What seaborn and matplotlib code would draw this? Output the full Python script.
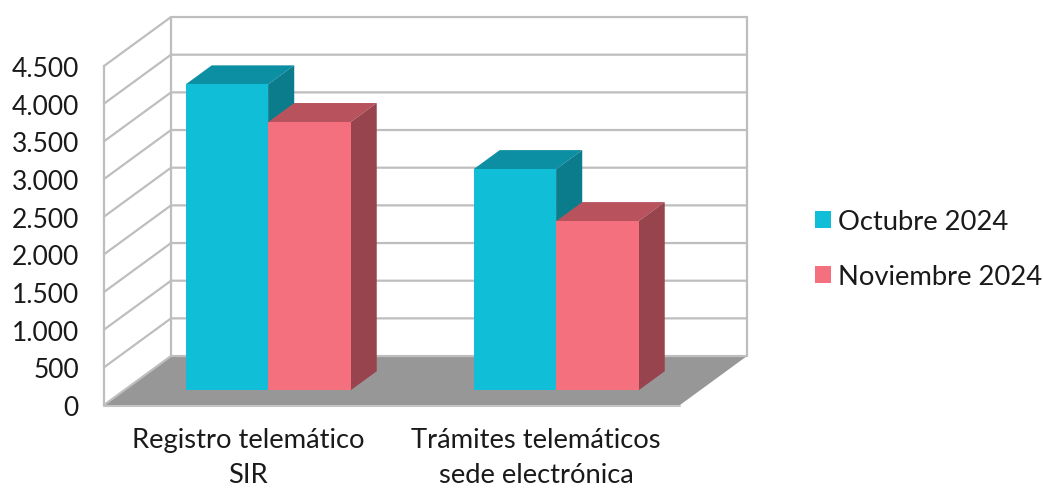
from matplotlib import pyplot as plt
from matplotlib.patches import Patch, Polygon
import pandas as pd
import seaborn as sns

categories = ["Registro telemático\nSIR", "Trámites telemáticos\nsede electrónica"]
series_names = ["Octubre 2024", "Noviembre 2024"]
octubre = [4060, 2935]
noviembre = [3560, 2245]
y_ticks = [0, 500, 1000, 1500, 2000, 2500, 3000, 3500, 4000, 4500]
y_tick_labels = ["0", "500", "1.000", "1.500", "2.000", "2.500", "3.000", "3.500", "4.000", "4.500"]

front_colors = ["#10BED8", "#F5707F"]
top_colors = ["#0C8FA2", "#B8525C"]
side_colors = ["#0B7C8C", "#97444E"]
line_color = "#BEBEBE"
floor_color = "#979797"

# depth of the fake 3D box, in data units
DEPTH_X = 67 / 288
DEPTH_Y = 650
BAR_START = 0.30
BAR_DEPTH = 0.39

sns.set_theme(style="white")
plt.rcParams["font.family"] = ["Lato", "DejaVu Sans"]

df = pd.DataFrame({
    "categoria": categories * 2,
    "serie": [series_names[0]] * 2 + [series_names[1]] * 2,
    "valor": octubre + noviembre,
})

fig = plt.figure(figsize=(10.43, 4.89), dpi=100)
ax = fig.add_axes([104 / 1043, 1 - 406 / 489, 576 / 1043, 339 / 489])

sns.barplot(
    data=df, x="categoria", y="valor", hue="serie", hue_order=series_names,
    palette=front_colors, width=0.573, gap=0, saturation=1, legend=False,
    linewidth=0, ax=ax,
)
ax.set_xlim(-0.5, 1.5)
ax.set_ylim(0, 4500)
sns.despine(ax=ax, left=True, bottom=True)


def shift(x, y, d):
    return x + d * DEPTH_X, y + d * DEPTH_Y


# floor
ax.add_patch(Polygon(
    [shift(-0.5, 0, 0), shift(1.5, 0, 0), shift(1.5, 0, 1), shift(-0.5, 0, 1)],
    closed=True, facecolor=floor_color, edgecolor="none", clip_on=False, zorder=1,
))
ax.plot([-0.5, 1.5], [-15, -15], color="#C4C4C4", lw=1.5, clip_on=False, zorder=1)

# walls
for v in y_ticks:
    x0, y0 = shift(-0.5, v, 0)
    x1, y1 = shift(-0.5, v, 1)
    x2, y2 = shift(1.5, v, 1)
    ax.plot([x0, x1, x2], [y0, y1, y2], color=line_color, lw=1.6, clip_on=False, zorder=1.5)
for x, d in [(-0.5, 0), (-0.5, 1), (1.5, 1)]:
    xa, ya = shift(x, 0, d)
    xb, yb = shift(x, 4500, d)
    ax.plot([xa, xb], [ya, yb], color=line_color, lw=1.6, clip_on=False, zorder=1.5)

# bars: front comes from seaborn, top and side are added from its geometry
for i, container in enumerate(ax.containers):
    for j, bar in enumerate(container):
        x0 = bar.get_x()
        x1 = x0 + bar.get_width()
        h = bar.get_height()
        z = 3 + i + j * 10
        d0 = BAR_START
        d1 = BAR_START + BAR_DEPTH
        ax.add_patch(Polygon(
            [shift(x0, h, d0), shift(x1, h, d0), shift(x1, h, d1), shift(x0, h, d1)],
            facecolor=top_colors[i], edgecolor="none", clip_on=False, zorder=z,
        ))
        ax.add_patch(Polygon(
            [shift(x1, 0, d0), shift(x1, h, d0), shift(x1, h, d1), shift(x1, 0, d1)],
            facecolor=side_colors[i], edgecolor="none", clip_on=False, zorder=z,
        ))
        bar.set_xy(shift(x0, 0, d0))
        bar.set_clip_on(False)
        bar.set_zorder(z + 0.5)

ax.set_xlabel("")
ax.set_ylabel("")
ax.set_yticks(y_ticks, y_tick_labels)
ax.tick_params(axis="y", length=0, pad=18, labelsize=19, labelcolor="#1A1A1A")
ax.tick_params(axis="x", length=0, pad=16, labelsize=19.7, labelcolor="#1A1A1A")
for label in ax.get_xticklabels():
    label.set_linespacing(1.5)
for label in ax.get_yticklabels():
    label.set_verticalalignment("center_baseline")

handles = [Patch(facecolor=c, edgecolor="none", label=n) for c, n in zip(front_colors, series_names)]
fig.legend(
    handles=handles, loc="center left", bbox_to_anchor=(815 / 1043, 1 - 250 / 489),
    frameon=False, fontsize=19.7, handlelength=0.585, handleheight=0.585,
    handletextpad=0.26, labelspacing=1.1, borderpad=0, borderaxespad=0,
    labelcolor="#1A1A1A",
)

fig.savefig("out.png", dpi=100)
